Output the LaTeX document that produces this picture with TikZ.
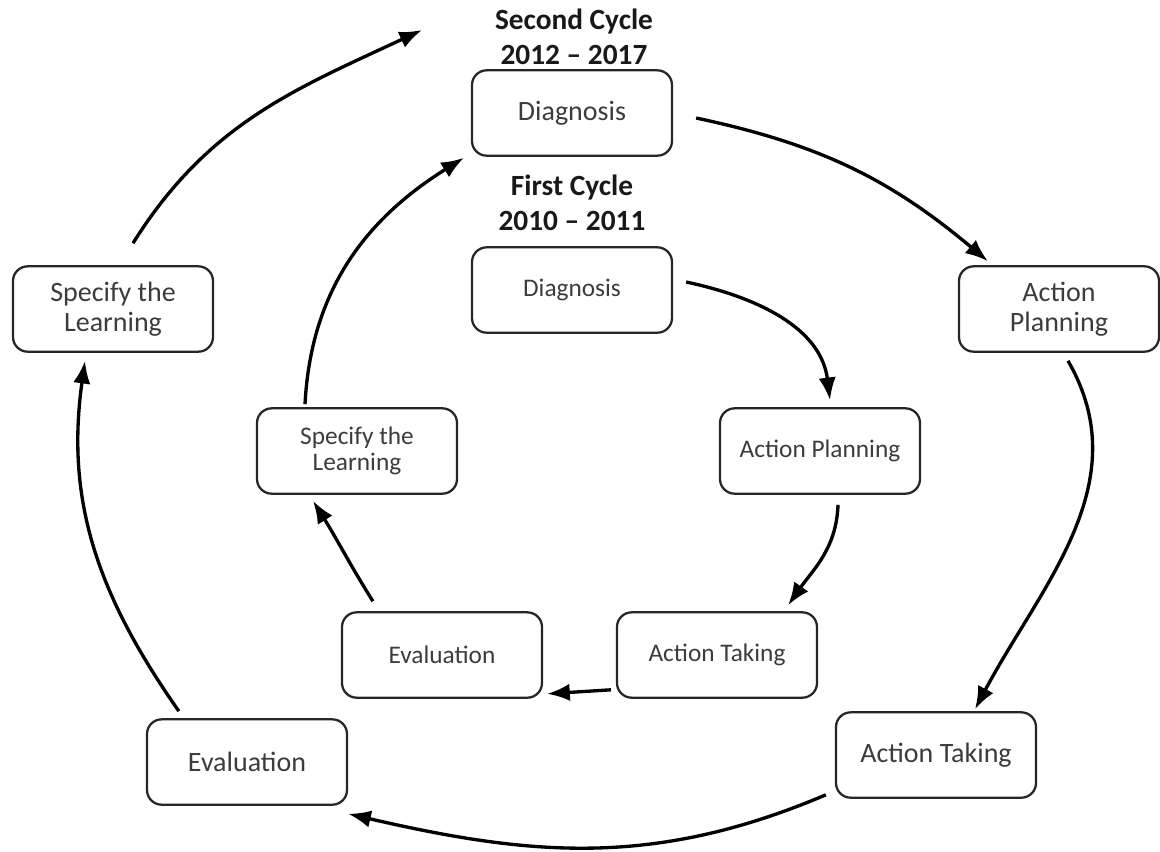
\documentclass[tikz,border=0pt]{standalone}
\usepackage{fontspec}
\setmainfont{Carlito}
\usetikzlibrary{arrows.meta}
\definecolor{boxtext}{HTML}{3C3C3C}
\tikzset{
  stage/.style={draw=black!85, line width=1.7pt, rounded corners=11pt,
    minimum width=150pt, minimum height=64pt, align=center,
    text=boxtext, inner sep=2pt},
  outerstage/.style={stage, font=\fontsize{21}{22.5}\selectfont},
  innerstage/.style={stage, font=\fontsize{19}{20}\selectfont},
  heading/.style={align=center, font=\bfseries\fontsize{22}{26}\selectfont, text=black!90},
  flow/.style={line width=2.5pt, -{Latex[length=17pt,width=13pt]}}
}
\begin{document}
\begin{tikzpicture}[x=0.75pt, y=0.75pt]
  \fill[white] (0,0) rectangle (1160,-851);
  \useasboundingbox (0,0) rectangle (1160,-851);

  % headings
  \node[heading] (h2) at (574,-37) {Second Cycle\\2012 -- 2017};
  \node[heading] (h1) at (572,-203) {First Cycle\\2010 -- 2011};

  % outer cycle
  \node[outerstage] (d2)  at (572,-113)  {Diagnosis};
  \node[outerstage] (ap2) at (1059,-309) {Action\\Planning};
  \node[outerstage] (at2) at (936,-755)  {Action Taking};
  \node[outerstage] (ev2) at (247,-762)  {Evaluation};
  \node[outerstage] (sp2) at (113,-309)  {Specify the\\Learning};
  \coordinate (top) at (422,-30);

  % inner cycle
  \node[innerstage] (d1)  at (572,-290) {Diagnosis};
  \node[innerstage] (ap1) at (820,-451) {Action Planning};
  \node[innerstage] (at1) at (717,-655) {Action Taking};
  \node[innerstage] (ev1) at (442,-655) {Evaluation};
  \node[innerstage] (sp1) at (357,-451) {Specify the\\Learning};

  % outer arrows
  \draw[flow] ([shift={(23,-5)}]d2.east) to[out=-12,in=140] ([shift={(30,4)}]ap2.north west);
  \draw[flow] ([shift={(9,-8)}]ap2.south) to[out=-60,in=62] ([shift={(39,2)}]at2.north);
  \draw[flow] ([shift={(-9,4)}]at2.south west) to[out=-157,in=-13] ([shift={(0,-8)}]ev2.south east);
  \draw[flow] ([shift={(33,7)}]ev2.north west) to[out=125,in=-98] ([shift={(-28,-8)}]sp2.south);
  \draw[flow] ([shift={(20,22)}]sp2.north) to[out=58,in=-155] (top);

  % inner arrows
  \draw[flow] ([shift={(13,8)}]d1.east) to[out=-12,in=97] ([shift={(10,7)}]ap1.north);
  \draw[flow] ([shift={(18,-10)}]ap1.south) to[out=-92,in=55] ([shift={(-30,6)}]at1.north east);
  \draw[flow] ([shift={(-5,9)}]at1.south west) -- ([shift={(4,5)}]ev1.south east);
  \draw[flow] ([shift={(32,10)}]ev1.north west) to[out=122,in=-58] ([shift={(-44,-6)}]sp1.south);
  \draw[flow] ([shift={(-52,3)}]sp1.north) to[out=87,in=-148] ([shift={(-7,-1)}]d2.south west);
\end{tikzpicture}
\end{document}
